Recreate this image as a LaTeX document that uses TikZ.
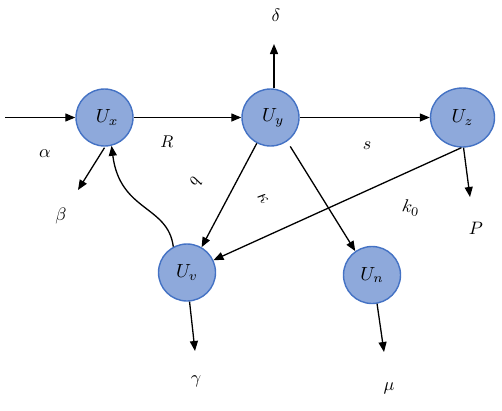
\documentclass[tikz,border=0pt]{standalone}
\usepackage{graphicx}
\usetikzlibrary{arrows.meta,shapes.geometric}
\newcommand{\sclm}[2]{\scalebox{#1}{$#2$}}
\begin{document}
\begin{tikzpicture}[x=1pt,y=-1pt,
  st/.style={circle,draw={rgb,255:red,68;green,114;blue,196},line width=1.4pt,fill={rgb,255:red,142;green,169;blue,219},minimum size=57pt,inner sep=0pt},
  ar/.style={line width=1.3pt,-{Triangle[length=10pt,width=8pt]}},
  lb/.style={inner sep=0pt}]
\useasboundingbox (0,0) rectangle (502,410);
\node[st] (ux) at (104.5,117.5) {\sclm{1.9}{\;U_x}};
\node[st] (uy) at (270.5,117.5) {\sclm{1.9}{\;U_y}};
\node[st,ellipse,minimum width=64pt,minimum height=59pt] (uz) at (462.5,117.5) {\sclm{1.9}{U_z}};
\node[st] (uv) at (187,272.5) {\sclm{1.9}{U_v}};
\node[st] (un) at (372,275) {\sclm{1.9}{U_n}};
\coordinate (in) at (5,117.5);
\coordinate (dl) at (274,44);
\coordinate (be) at (78,190);
\coordinate (pp) at (470,197);
\coordinate (ga) at (195,351);
\coordinate (mu) at (384,352);
\node[lb] (alpha) at (45,154) {\sclm{1.8}{\alpha}};
\node[lb] (beta) at (61,216) {\sclm{1.8}{\beta}};
\node[lb] (R) at (167,142) {\sclm{1.7}{R}};
\node[lb] (delta) at (276,15) {\sclm{1.8}{\delta}};
\node[lb] (s) at (367,146) {\sclm{1.8}{s}};
\node[lb,rotate=-120] (b) at (196,182) {\sclm{1.8}{b}};
\node[lb,rotate=-55] (kappa) at (263,199) {\sclm{1.8}{\kappa}};
\node[lb,rotate=-8] (k0) at (411,208) {\sclm{1.8}{k_0}};
\node[lb] (P) at (476,228) {\sclm{1.8}{P}};
\node[lb] (gamma) at (196,381) {\sclm{1.8}{\gamma}};
\node[lb] (mul) at (389,388) {\sclm{1.8}{\mu}};
\draw[ar] (in) -- (ux);
\draw[ar] (ux) -- (uy);
\draw[ar] (uy) -- (uz);
\draw[ar] (uy.north) ++(3.5,0) -- (dl);
\draw[ar] (ux.south) ++(0,1) -- (be);
\draw[ar] (uy.-118) -- (uv.60);
\draw[ar] (uy.-55) ++(3,5) -- (un.125);
\draw[ar] (uz.-92) -- (uv.25);
\draw[ar] (uz.-88) -- (pp);
\draw[ar] (uv.-85) -- (ga);
\draw[ar] (un.-80) -- (mu);
\draw[ar] (uv.118) .. controls (168,205) and (120,212) .. (ux.-76);
\end{tikzpicture}
\end{document}
